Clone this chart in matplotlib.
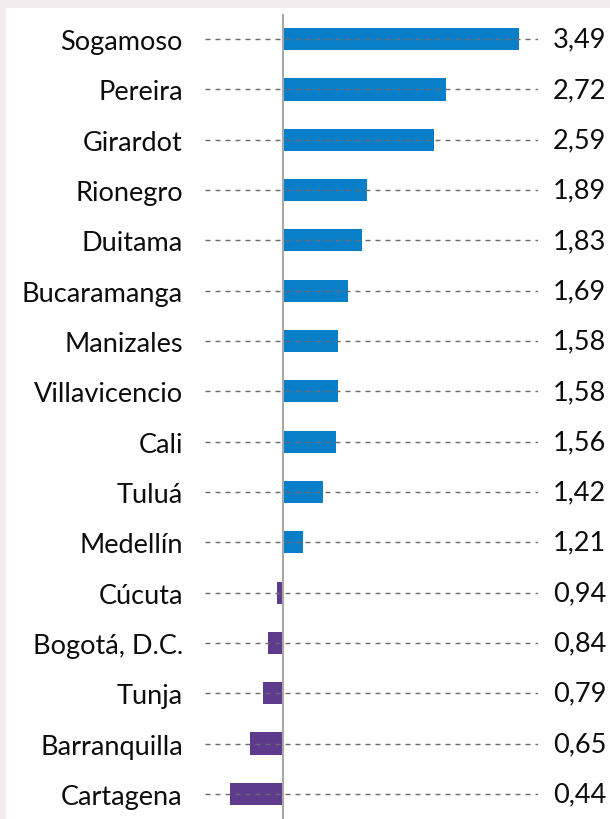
import matplotlib
matplotlib.use("Agg")
import matplotlib.pyplot as plt

cities = ["Sogamoso", "Pereira", "Girardot", "Rionegro", "Duitama", "Bucaramanga",
          "Manizales", "Villavicencio", "Cali", "Tuluá", "Medellín", "Cúcuta",
          "Bogotá, D.C.", "Tunja", "Barranquilla", "Cartagena"]
values = [3.49, 2.72, 2.59, 1.89, 1.83, 1.69, 1.58, 1.58, 1.56, 1.42, 1.21,
          0.94, 0.84, 0.79, 0.65, 0.44]
value_labels = ["3,49", "2,72", "2,59", "1,89", "1,83", "1,69", "1,58", "1,58",
                "1,56", "1,42", "1,21", "0,94", "0,84", "0,79", "0,65", "0,44"]
baseline = 1.0

plt.rcParams['font.family'] = ['Lato', 'DejaVu Sans']

W, H = 610, 820
fig = plt.figure(figsize=(W / 100, H / 100), dpi=100, facecolor="#f2ecef")
bg = fig.add_axes([6 / W, 0, 1 - 6 / W, 1 - 9 / H], zorder=-1)
bg.set_facecolor("white")
bg.set_xticks([])
bg.set_yticks([])
for s in bg.spines.values():
    s.set_visible(False)

# axes spanning pixels x 205..538, y 15..820
ax = fig.add_axes([205 / W, 0 / H, (538 - 205) / W, (820 - 15) / H])
ax.set_facecolor("none")
n = len(cities)
ys = list(range(n))
blue = "#0A7FC9"
purple = "#5E3A8D"
colors = [blue if v >= baseline else purple for v in values]
ax.barh(ys, [v - baseline for v in values], left=baseline, height=0.44,
        color=colors, zorder=2)
for y in ys:
    ax.plot([0.18, 3.69], [y, y], color="#6a6a6a", lw=1.0,
            dashes=(3.6, 3.6), zorder=3, solid_capstyle="butt")
ax.set_xlim(0.18, 3.69)
ax.set_ylim(n - 0.5, -0.5)
ax.axvline(baseline, ymin=0.0, ymax=1.0, color="#a8a8a8", lw=1.5, zorder=4)
for s in ax.spines.values():
    s.set_visible(False)
ax.set_xticks([])
ax.set_yticks(ys)
ax.set_yticklabels(cities, fontsize=19.5, color="#0d0d0d")
ax.tick_params(axis="y", length=0, pad=16)
for y, lab in zip(ys, value_labels):
    ax.annotate(lab, xy=(1, y), xycoords=("axes fraction", "data"),
                xytext=(15, 0), textcoords="offset pixels",
                ha="left", va="center", fontsize=19.5, color="#0d0d0d")

fig.savefig("out.png", dpi=100, facecolor=fig.get_facecolor())
